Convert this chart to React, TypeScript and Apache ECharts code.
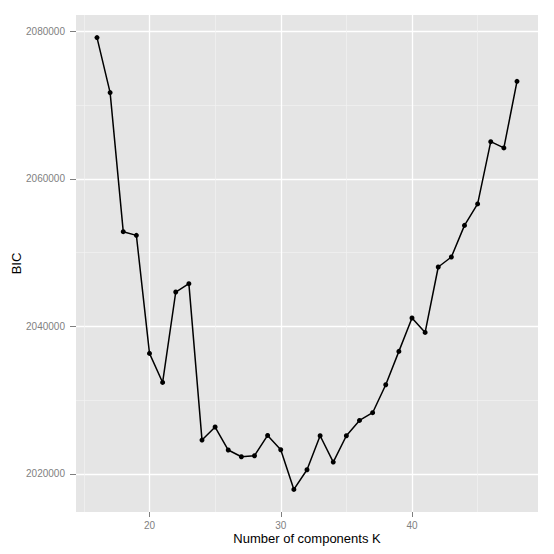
import React, { useEffect, useRef } from "react";
import * as echarts from "echarts";

const kValues = [16, 17, 18, 19, 20, 21, 22, 23, 24, 25, 26, 27, 28, 29, 30, 31, 32, 33, 34, 35, 36, 37, 38, 39, 40, 41, 42, 43, 44, 45, 46, 47, 48];
const bicValues = [
  2079150, 2071690, 2052840, 2052340, 2036340, 2032400, 2044660, 2045790, 2024590, 2026360,
  2023240, 2022330, 2022470, 2025220, 2023280, 2017900, 2020570, 2025180, 2021610, 2025180,
  2027250, 2028300, 2032090, 2036610, 2041140, 2039180, 2048050, 2049410, 2053690, 2056600,
  2065040, 2064190, 2073220,
];
const xMajorTicks = [20, 30, 40];
const xMinorTicks = [15, 25, 35, 45];
const yMajorTicks = [2020000, 2040000, 2060000, 2080000];
const yMinorTicks = [2030000, 2050000, 2070000];

const X_MIN = 14.4;
const X_MAX = 49.6;
const Y_MIN = 2014840;
const Y_MAX = 2082210;

const FONT = "'Liberation Sans', Arial, Helvetica, sans-serif";

export default function App() {
  const ref = useRef<HTMLDivElement>(null);
  useEffect(() => {
    if (!ref.current) return;
    const chart = echarts.init(ref.current, undefined, { renderer: "svg" });
    const data = kValues.map((k, i) => [k, bicValues[i]]);
    const hidden = { show: false };
    chart.setOption({
      animation: false,
      textStyle: { fontFamily: FONT },
      grid: {
        left: 76,
        top: 15,
        right: 16,
        bottom: 42,
        show: true,
        backgroundColor: "#E5E5E5",
        borderWidth: 0,
        containLabel: false,
        outerBoundsMode: "none",
      },
      xAxis: [
        {
          type: "value",
          min: X_MIN,
          max: X_MAX,
          position: "bottom",
          name: "Number of components K",
          nameLocation: "middle",
          nameGap: 20,
          nameMoveOverlap: false,
          nameTextStyle: { color: "#000", fontSize: 13, fontFamily: FONT, verticalAlign: "top" },
          axisLine: hidden,
          axisTick: { show: true, length: 5, customValues: xMajorTicks, lineStyle: { color: "#7F7F7F", width: 1 } },
          axisLabel: { show: true, customValues: xMajorTicks, color: "#7F7F7F", fontSize: 10, fontFamily: FONT, margin: 8 },
          splitLine: { show: true, lineStyle: { color: "#FFFFFF", width: 1.3 } },
        },
        {
          type: "value",
          min: X_MIN,
          max: X_MAX,
          position: "bottom",
          axisLine: hidden,
          axisTick: { show: false, customValues: xMinorTicks },
          axisLabel: { show: false, customValues: xMinorTicks },
          splitLine: { show: true, lineStyle: { color: "#F2F2F2", width: 0.7 } },
        },
      ],
      yAxis: [
        {
          type: "value",
          min: Y_MIN,
          max: Y_MAX,
          position: "left",
          name: "BIC",
          nameLocation: "middle",
          nameGap: 53,
          nameMoveOverlap: false,
          nameRotate: 90,
          nameTextStyle: { color: "#000", fontSize: 13, fontFamily: FONT },
          axisLine: hidden,
          axisTick: { show: true, length: 6, customValues: yMajorTicks, lineStyle: { color: "#7F7F7F", width: 1 } },
          axisLabel: {
            show: true,
            customValues: yMajorTicks,
            color: "#7F7F7F",
            fontSize: 10,
            fontFamily: FONT,
            margin: 11,
            formatter: (v: number) => String(v),
          },
          splitLine: { show: true, lineStyle: { color: "#FFFFFF", width: 1.3 } },
        },
        {
          type: "value",
          min: Y_MIN,
          max: Y_MAX,
          position: "left",
          axisLine: hidden,
          axisTick: { show: false, customValues: yMinorTicks },
          axisLabel: { show: false, customValues: yMinorTicks },
          splitLine: { show: true, lineStyle: { color: "#F2F2F2", width: 0.7 } },
        },
      ],
      series: [
        {
          type: "line",
          xAxisIndex: 0,
          yAxisIndex: 0,
          data,
          symbol: "circle",
          symbolSize: 5,
          showAllSymbol: true,
          lineStyle: { color: "#000", width: 1.5 },
          itemStyle: { color: "#000" },
          z: 5,
        },
      ],
    });
    return () => chart.dispose();
  }, []);
  return <div ref={ref} style={{ width: 554, height: 554, position: "absolute", left: 0, top: 0 }} />;
}
